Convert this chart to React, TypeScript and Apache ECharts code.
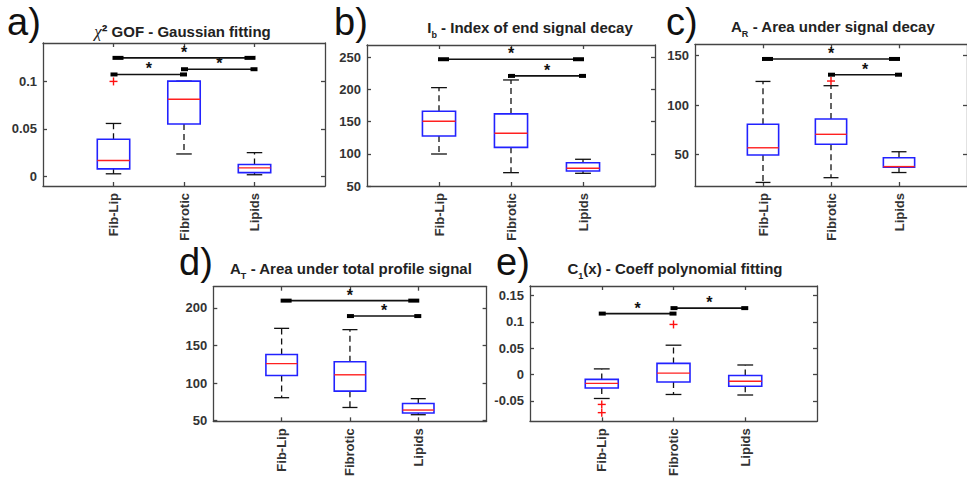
import React, { useEffect, useRef } from 'react';
import * as echarts from 'echarts';

const categories = ['Fib-Lip', 'Fibrotic', 'Lipids'];

// a) chi^2 GOF - Gaussian fitting
const gofMin = [0.0028, 0.0236, 0.0018];
const gofQ1 = [0.008, 0.055, 0.004];
const gofMed = [0.0167, 0.081, 0.009];
const gofQ3 = [0.039, 0.1, 0.0125];
const gofMax = [0.0556, 0.1, 0.025];
const gofOutliers = [[1, 0.0997]];
const gofSig = [[1, 3, 0.1244], [1, 2, 0.107], [2, 3, 0.1125]];
const gofTicks = [0, 0.05, 0.1];

// b) Ib - Index of end signal decay
const ibMin = [99.7, 70.7, 69.7];
const ibQ1 = [127.7, 110, 73.3];
const ibMed = [150.5, 132, 77.5];
const ibQ3 = [166, 162, 86];
const ibMax = [202.8, 214.7, 91.5];
const ibOutliers: number[][] = [];
const ibSig = [[1, 3, 246.9], [2, 3, 221]];
const ibTicks = [50, 100, 150, 200, 250];

// c) AR - Area under signal decay
const arMin = [22, 26.8, 32];
const arQ1 = [49.7, 60.5, 37.3];
const arMed = [57, 70.6, 38];
const arQ3 = [80.7, 86, 47];
const arMax = [124, 119.7, 53];
const arOutliers = [[2, 124.4]];
const arSig = [[1, 3, 146.7], [2, 3, 130.8]];
const arTicks = [50, 100, 150];

// d) AT - Area under total profile signal
const atMin = [80.6, 67.6, 58];
const atQ1 = [110, 89.3, 60.2];
const atMed = [125.8, 111, 64.2];
const atQ3 = [138, 128.4, 72.8];
const atMax = [172.7, 171, 79.3];
const atOutliers: number[][] = [];
const atSig = [[1, 3, 209.5], [2, 3, 189]];
const atTicks = [50, 100, 150, 200];

// e) C1(x) - Coeff polynomial fitting
const c1Min = [-0.0456, -0.038, -0.039];
const c1Q1 = [-0.0256, -0.0144, -0.0225];
const c1Med = [-0.0169, 0.0025, -0.013];
const c1Q3 = [-0.0094, 0.021, -0.002];
const c1Max = [0.0106, 0.0556, 0.018];
const c1Outliers = [[1, -0.0569], [1, -0.0725], [2, 0.095]];
const c1Sig = [[1, 2, 0.1156], [2, 3, 0.126]];
const c1Ticks = [-0.05, 0, 0.05, 0.1, 0.15];

const panelLetters = ['a)', 'b)', 'c)', 'd)', 'e)'];
const panelTitles = [
  '{chi|χ}{sup|²} GOF - Gaussian fitting',
  'I{sub|b} - Index of end signal decay',
  'A{sub|R} - Area under signal decay',
  'A{sub|T} - Area under total profile signal',
  'C{sub|1}(x) - Coeff polynomial fitting',
];

const FONT = '"Liberation Sans", Arial, Helvetica, sans-serif';
const AXIS_COLOR = '#444';
const LABEL_COLOR = '#333';

const panels = [
  { box: [gofMin, gofQ1, gofMed, gofQ3, gofMax], outliers: gofOutliers, sig: gofSig, ticks: gofTicks,
    grid: { left: 43, top: 43, width: 282, height: 143 }, yMin: -0.01, yMax: 0.14,
    letter: { x: 7, y: 22 }, title: { x: 182.5, y: 31 } },
  { box: [ibMin, ibQ1, ibMed, ibQ3, ibMax], outliers: ibOutliers, sig: ibSig, ticks: ibTicks,
    grid: { left: 367, top: 45, width: 288, height: 141 }, yMin: 50, yMax: 269,
    letter: { x: 334, y: 22 }, title: { x: 530, y: 27 } },
  { box: [arMin, arQ1, arMed, arQ3, arMax], outliers: arOutliers, sig: arSig, ticks: arTicks,
    grid: { left: 695, top: 44.3, width: 287, height: 141.7 }, yMin: 18.4, yMax: 161.5,
    letter: { x: 666, y: 22 }, title: { x: 833, y: 26.5 } },
  { box: [atMin, atQ1, atMed, atQ3, atMax], outliers: atOutliers, sig: atSig, ticks: atTicks,
    grid: { left: 213.3, top: 286.7, width: 273.3, height: 136.6 }, yMin: 49.2, yMax: 228,
    letter: { x: 179, y: 262 }, title: { x: 351, y: 268 } },
  { box: [c1Min, c1Q1, c1Med, c1Q3, c1Max], outliers: c1Outliers, sig: c1Sig, ticks: c1Ticks,
    grid: { left: 530, top: 286, width: 287, height: 137.3 }, yMin: -0.089, yMax: 0.168,
    letter: { x: 496, y: 262 }, title: { x: 675, y: 268 } },
];

function renderBox(params: any, api: any) {
  const x = api.value(0);
  const mn = api.value(1), q1 = api.value(2), md = api.value(3), q3 = api.value(4), mx = api.value(5);
  const c = (v: number) => api.coord([x, v]);
  const px = c(md)[0];
  const yMin = c(mn)[1], yQ1 = c(q1)[1], yMd = c(md)[1], yQ3 = c(q3)[1], yMax = c(mx)[1];
  const hw = api.size([0.23, 0])[0];
  const cw = api.size([0.11, 0])[0];
  const whisk = { stroke: '#111', lineWidth: 1.3, lineDash: [6, 4] };
  const solid = { stroke: '#111', lineWidth: 1.3 };
  return {
    type: 'group',
    children: [
      { type: 'line', shape: { x1: px, y1: yQ3, x2: px, y2: yMax }, style: whisk },
      { type: 'line', shape: { x1: px, y1: yQ1, x2: px, y2: yMin }, style: whisk },
      { type: 'line', shape: { x1: px - cw, y1: yMax, x2: px + cw, y2: yMax }, style: solid },
      { type: 'line', shape: { x1: px - cw, y1: yMin, x2: px + cw, y2: yMin }, style: solid },
      { type: 'rect', shape: { x: px - hw, y: yQ3, width: 2 * hw, height: yQ1 - yQ3 },
        style: { fill: 'none', stroke: '#2222ff', lineWidth: 1.6 } },
      { type: 'line', shape: { x1: px - hw, y1: yMd, x2: px + hw, y2: yMd },
        style: { stroke: '#ff2020', lineWidth: 1.4 } },
    ],
  };
}

function renderOutlier(params: any, api: any) {
  const p = api.coord([api.value(0), api.value(1)]);
  const s = { stroke: '#ff1010', lineWidth: 1.4 };
  return {
    type: 'group',
    children: [
      { type: 'line', shape: { x1: p[0] - 4, y1: p[1], x2: p[0] + 4, y2: p[1] }, style: s },
      { type: 'line', shape: { x1: p[0], y1: p[1] - 4, x2: p[0], y2: p[1] + 4 }, style: s },
    ],
  };
}

function renderSig(params: any, api: any) {
  const x1 = api.value(0), x2 = api.value(1), y = api.value(2);
  const p1 = api.coord([x1, y]);
  const p2 = api.coord([x2, y]);
  const long = x2 - x1 > 1.5;
  const L = long ? 11 : 7;
  const lx = long ? p1[0] - 1 : p1[0] - 3;
  const rx = long ? p2[0] - L + 1 : p2[0] - 4;
  return {
    type: 'group',
    children: [
      { type: 'line', shape: { x1: p1[0], y1: p1[1], x2: p2[0], y2: p2[1] },
        style: { stroke: '#111', lineWidth: 1.6 } },
      { type: 'rect', shape: { x: lx, y: p1[1] - 2, width: L, height: 4 }, style: { fill: '#000' } },
      { type: 'rect', shape: { x: rx, y: p2[1] - 2, width: L, height: 4 }, style: { fill: '#000' } },
      { type: 'text', style: { text: '*', x: (p1[0] + p2[0]) / 2, y: p1[1] - 5.5,
        font: `bold 16px ${FONT}`, fill: '#111', textAlign: 'center', textVerticalAlign: 'middle' } },
    ],
  };
}

function buildOption() {
  const grid: any[] = [];
  const xAxis: any[] = [];
  const yAxis: any[] = [];
  const series: any[] = [];
  const graphic: any[] = [];
  const lineStyle = { color: AXIS_COLOR, width: 1.3 };

  panels.forEach((p, i) => {
    grid.push({ ...p.grid });
    xAxis.push({
      gridIndex: i, type: 'value', min: 0, max: 4, position: 'bottom',
      axisLine: { show: true, onZero: false, lineStyle },
      axisTick: { show: true, inside: true, length: 4, customValues: [1, 2, 3], lineStyle },
      axisLabel: { show: true, customValues: [1, 2, 3], rotate: 90, margin: 7,
        formatter: (v: number) => categories[Math.round(v) - 1] || '',
        fontSize: 13, fontWeight: 'bold', color: LABEL_COLOR, fontFamily: FONT },
      splitLine: { show: false },
    });
    xAxis.push({
      gridIndex: i, type: 'value', min: 0, max: 4, position: 'top',
      axisLine: { show: true, onZero: false, lineStyle },
      axisTick: { show: true, inside: true, length: 4, customValues: [1, 2, 3], lineStyle },
      axisLabel: { show: false },
      splitLine: { show: false },
    });
    yAxis.push({
      gridIndex: i, type: 'value', min: p.yMin, max: p.yMax, position: 'left',
      axisLine: { show: true, onZero: false, lineStyle },
      axisTick: { show: true, inside: true, length: 4, customValues: p.ticks, lineStyle },
      axisLabel: { show: true, customValues: p.ticks, margin: 6,
        fontSize: 13, fontWeight: 'bold', color: LABEL_COLOR, fontFamily: FONT },
      splitLine: { show: false },
    });
    yAxis.push({
      gridIndex: i, type: 'value', min: p.yMin, max: p.yMax, position: 'right',
      axisLine: { show: true, onZero: false, lineStyle },
      axisTick: { show: true, inside: true, length: 4, customValues: p.ticks, lineStyle },
      axisLabel: { show: false },
      splitLine: { show: false },
    });
    const [mn, q1, md, q3, mx] = p.box;
    series.push({
      type: 'custom', xAxisIndex: 2 * i, yAxisIndex: 2 * i,
      renderItem: renderBox,
      encode: { x: 0, y: [1, 2, 3, 4, 5] },
      data: categories.map((_, k) => [k + 1, mn[k], q1[k], md[k], q3[k], mx[k]]),
      z: 2,
    });
    if (p.outliers.length) {
      series.push({
        type: 'custom', xAxisIndex: 2 * i, yAxisIndex: 2 * i,
        renderItem: renderOutlier, encode: { x: 0, y: 1 },
        data: p.outliers, z: 3,
      });
    }
    series.push({
      type: 'custom', xAxisIndex: 2 * i, yAxisIndex: 2 * i,
      renderItem: renderSig, encode: { x: [0, 1], y: 2 },
      data: p.sig, z: 3,
    });
    graphic.push({
      type: 'text', x: p.letter.x, y: p.letter.y,
      style: { text: panelLetters[i], font: `38px ${FONT}`, fill: '#111',
        textAlign: 'left', textVerticalAlign: 'middle' },
    });
    graphic.push({
      type: 'text', x: p.title.x, y: p.title.y,
      style: {
        text: panelTitles[i], font: `bold 15px ${FONT}`, fill: '#222', lineHeight: 24,
        textAlign: 'center', textVerticalAlign: 'middle',
        rich: {
          sub: { fontSize: 9, fontWeight: 'bold', fontFamily: FONT, fill: '#222', lineHeight: 9, verticalAlign: 'bottom' },
          sup: { fontSize: 17, fontWeight: 'bold', fontFamily: FONT, fill: '#222', lineHeight: 24 },
          chi: { fontSize: 17, fontStyle: 'italic', fontFamily: '"Liberation Serif", "DejaVu Serif", serif', fill: '#222', lineHeight: 24 },
        },
      },
    });
  });

  return {
    animation: false,
    backgroundColor: '#fff',
    grid, xAxis, yAxis, series, graphic,
  };
}

export default function App() {
  const ref = useRef<HTMLDivElement>(null);
  useEffect(() => {
    const chart = echarts.init(ref.current!, undefined, { renderer: 'svg' });
    chart.setOption(buildOption() as any);
    return () => chart.dispose();
  }, []);
  return (
    <div
      ref={ref}
      style={{ position: 'absolute', left: 0, top: 0, width: 967, height: 479, background: '#fff' }}
    />
  );
}
